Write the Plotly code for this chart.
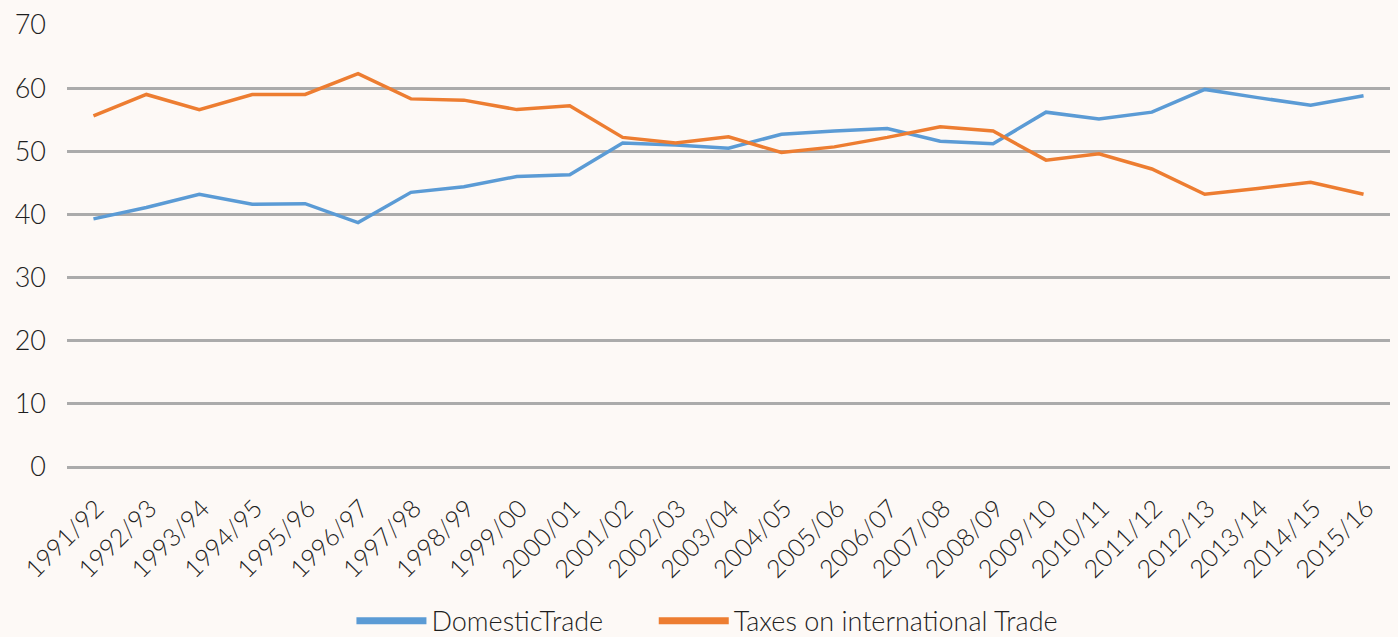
import plotly.graph_objects as go

years = ["1991/92", "1992/93", "1993/94", "1994/95", "1995/96", "1996/97", "1997/98",
         "1998/99", "1999/00", "2000/01", "2001/02", "2002/03", "2003/04", "2004/05",
         "2005/06", "2006/07", "2007/08", "2008/09", "2009/10", "2010/11", "2011/12",
         "2012/13", "2013/14", "2014/15", "2015/16"]

domestic_trade = [39.3, 41.1, 43.2, 41.6, 41.7, 38.7, 43.5, 44.4, 46.0, 46.3, 51.3, 51.0,
                  50.5, 52.7, 53.2, 53.6, 51.6, 51.2, 56.2, 55.1, 56.2, 59.8, 58.5, 57.3, 58.8]

intl_trade_taxes = [55.6, 59.0, 56.6, 59.0, 59.0, 62.3, 58.3, 58.1, 56.6, 57.2, 52.2, 51.3,
                    52.3, 49.8, 50.7, 52.2, 53.9, 53.2, 48.6, 49.6, 47.2, 43.2, 44.1, 45.1, 43.2]

y_ticks = [0, 10, 20, 30, 40, 50, 60, 70]

BG = "#FDF9F6"
GRID = "#ABABAB"
TEXT = "#1E1E1E"
BLUE = "#5B9BD5"
ORANGE = "#ED7D31"
FONT = "Lato Light, Lato"

series = [("DomesticTrade", domestic_trade, BLUE, "legend", 0.215),
          ("Taxes on international Trade", intl_trade_taxes, ORANGE, "legend2", 0.4435)]

fig = go.Figure()
for name, values, color, _, _ in series:
    fig.add_trace(go.Scatter(x=years, y=values, mode="lines", name=name, showlegend=False,
                             line=dict(color=color, width=3.5)))

legend_style = dict(orientation="h", xanchor="left", yref="container", y=0.025,
                    yanchor="middle", font=dict(family=FONT, weight=300, size=27, color=TEXT),
                    itemwidth=70, bgcolor="rgba(0,0,0,0)")
layout_legends = {}
# one legend per series, each keyed with a thicker line
for name, values, color, legend_id, x_pos in series:
    fig.add_trace(go.Scatter(x=[None], y=[None], mode="lines", name=name, showlegend=True,
                             legend=legend_id, line=dict(color=color, width=7)))
    layout_legends[legend_id] = dict(legend_style, x=x_pos)

fig.update_layout(
    width=1398, height=637,
    paper_bgcolor=BG, plot_bgcolor=BG,
    margin=dict(l=67, r=8, t=25, b=170, autoexpand=False),
    font=dict(family=FONT, weight=300, color=TEXT, size=24),
    xaxis=dict(type="category", range=[-0.5, 24.5], tickangle=-45, showgrid=False,
               showline=False, ticks="", automargin=False, ticklabelshift=3,
               ticklabelstandoff=21,
               tickfont=dict(family=FONT, weight=300, size=25, color=TEXT)),
    yaxis=dict(range=[0, 70], tickvals=y_ticks, showgrid=True, gridcolor=GRID, gridwidth=3,
               zeroline=True, zerolinecolor=GRID, zerolinewidth=3, showline=False,
               ticks="", automargin=False, ticklabelstandoff=20,
               tickfont=dict(family=FONT, weight=300, size=27, color=TEXT)),
    **layout_legends,
)

fig.write_html("out.html")
